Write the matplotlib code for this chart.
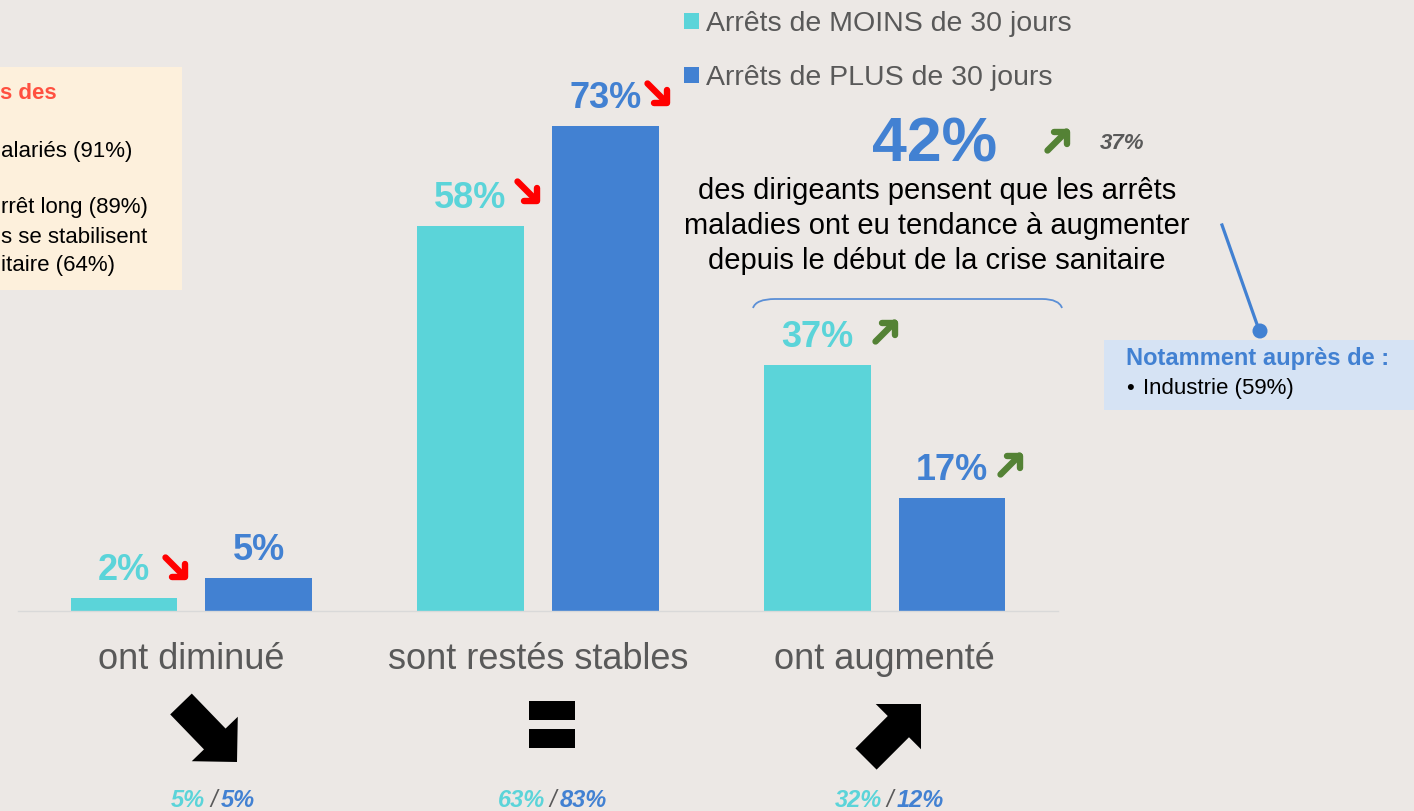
import numpy as np
import matplotlib.pyplot as plt
from matplotlib.patches import Rectangle, Polygon, Circle, PathPatch
from matplotlib.path import Path

plt.rcParams['font.family'] = ['Liberation Sans', 'DejaVu Sans']

# donnees
categories = ['ont diminué', 'sont restés stables', 'ont augmenté']
moins_30 = [2, 58, 37]
plus_30 = [5, 73, 17]
prev_moins = [5, 63, 32]
prev_plus = [5, 83, 12]
legend_labels = ['Arrêts de MOINS de 30 jours', 'Arrêts de PLUS de 30 jours']

CYAN = '#5BD4D9'
BLUE = '#4281D2'
GREY = '#595959'
BG = '#ECE8E5'
RED = '#FF0000'
GREEN = '#548235'

W, H = 1414, 811
fig = plt.figure(figsize=(W / 100, H / 100), dpi=100, facecolor=BG)

# calque en pixels pour les elements decoratifs
ov = fig.add_axes([0, 0, 1, 1])
ov.set_xlim(0, W)
ov.set_ylim(H, 0)
ov.axis('off')
ov.patch.set_visible(False)

ax = fig.add_axes([18 / W, (H - 611) / H, 1040 / W, 611 / H])
ax.set_facecolor('none')
x = np.arange(len(categories))
width = 0.308
off = 0.1945
b1 = ax.bar(x - off, moins_30, width, color=CYAN, label=legend_labels[0])
b2 = ax.bar(x + off, plus_30, width, color=BLUE, label=legend_labels[1])
ax.set_xlim(-0.5, 2.5)
ax.set_ylim(0, 92)
for s in ['top', 'right', 'left']:
    ax.spines[s].set_visible(False)
ax.spines['bottom'].set_color('#D9D9D9')
ax.spines['bottom'].set_linewidth(1)
ax.set_yticks([])
ax.set_xticks(x)
ax.set_xticklabels(categories, fontsize=26, color=GREY)
ax.tick_params(axis='x', length=0, pad=22)

for bars, vals, col in [(b1, moins_30, CYAN), (b2, plus_30, BLUE)]:
    for r, v in zip(bars, vals):
        ax.annotate(f'{v}%', (r.get_x() + r.get_width() / 2, v),
                    xytext=(0, 13), textcoords='offset points',
                    ha='center', va='baseline', fontsize=26,
                    fontweight='bold', color=col)


def small_arrow(cx, cy, up, color):
    s = 9.5
    k = 12.5
    kw = dict(color=color, lw=4.6, solid_capstyle='round',
              solid_joinstyle='round')
    if up:
        tip = (cx + s, cy - s)
        ov.plot([cx - s, tip[0]], [cy + s, tip[1]], **kw)
        ov.plot([tip[0] - k, tip[0], tip[0]], [tip[1], tip[1], tip[1] + k], **kw)
    else:
        tip = (cx + s, cy + s)
        ov.plot([cx - s, tip[0]], [cy - s, tip[1]], **kw)
        ov.plot([tip[0] - k, tip[0], tip[0]], [tip[1], tip[1], tip[1] - k], **kw)


# petites fleches de tendance
small_arrow(175, 567, False, RED)
small_arrow(527, 191, False, RED)
small_arrow(657, 93, False, RED)
small_arrow(885, 332, True, GREEN)
small_arrow(1010, 465, True, GREEN)
small_arrow(1057, 141, True, GREEN)


def block_arrow(tail, tip, color='black'):
    tail = np.array(tail, float)
    tip = np.array(tip, float)
    d = tip - tail
    L = np.hypot(*d)
    u = d / L
    v = np.array([-u[1], u[0]])
    w, hh = 15, 32
    pts_local = [(0, -w), (L - hh, -w), (L - hh, -hh), (L, 0),
                 (L - hh, hh), (L - hh, w), (0, w)]
    pts = [tail + a * u + b * v for a, b in pts_local]
    ov.add_patch(Polygon(pts, closed=True, color=color, lw=0))


block_arrow((181, 704), (237, 762))
block_arrow((866, 759), (921, 704))
ov.add_patch(Rectangle((529, 701), 46, 19, color='black', lw=0))
ov.add_patch(Rectangle((529, 729), 46, 19, color='black', lw=0))

# rappel vague precedente
note_dx = [22, 15, 5]
for i in range(len(categories)):
    kw = dict(textcoords='offset pixels', va='baseline', fontsize=17,
              fontstyle='italic', annotation_clip=False)
    ax.annotate('/', (i, 0), xytext=(note_dx[i], -196), ha='center',
                color=GREY, **kw)
    ax.annotate(f'{prev_moins[i]}%', (i, 0), xytext=(note_dx[i] - 8, -196),
                ha='right', fontweight='bold', color=CYAN, **kw)
    ax.annotate(f'{prev_plus[i]}%', (i, 0), xytext=(note_dx[i] + 7, -196),
                ha='left', fontweight='bold', color=BLUE, **kw)

# legende
fig.legend(handles=[b1, b2], labels=legend_labels, loc='upper left',
           bbox_to_anchor=(673 / W, 1.0), frameon=False, fontsize=20.5,
           labelcolor=GREY, handlelength=0.5, handleheight=0.5,
           handletextpad=0.25, labelspacing=0.98, borderaxespad=0)

# encadre gauche (tronque)
ov.add_patch(Rectangle((0, 67), 182, 223, color='#FDF0DC', lw=0))
ov.text(0, 99, 's des', ha='left', va='baseline', fontsize=16,
        fontweight='bold', color='#FF5040')
lines_left = [(157, 'alariés (91%)'), (213, 'rrêt long (89%)'),
              (243, 's se stabilisent'), (271, 'itaire (64%)')]
for yy, t in lines_left:
    ov.text(1, yy, t, ha='left', va='baseline', fontsize=16, color='black')

# chiffre cle
ov.text(935, 161, '42%', ha='center', va='baseline', fontsize=45,
        fontweight='bold', color=BLUE)
ov.text(1100, 149, '37%', ha='left', va='baseline', fontsize=16,
        fontweight='bold', fontstyle='italic', color=GREY)
ov.text(937, 226, 'des dirigeants pensent que les arrêts\n'
        'maladies ont eu tendance à augmenter\n'
        'depuis le début de la crise sanitaire',
        ha='center', va='center', fontsize=21, color='black',
        linespacing=1.33)

# accolade
brace = Path([(753, 308), (756, 299), (775, 299), (1042, 299),
              (1059, 299), (1062, 308)],
             [Path.MOVETO, Path.CURVE3, Path.CURVE3, Path.LINETO,
              Path.CURVE3, Path.CURVE3])
ov.add_patch(PathPatch(brace, fc='none', ec='#5B8FD6', lw=1.3))

# encadre secteur
ov.plot([1222, 1259], [225, 330], color=BLUE, lw=2.3)
ov.add_patch(Rectangle((1104, 340), 310, 70, color='#D6E3F4', lw=0))
ov.add_patch(Circle((1260, 331), 7.5, color=BLUE, lw=0))
ov.text(1126, 365, 'Notamment auprès de :', ha='left', va='baseline',
        fontsize=17, fontweight='bold', color=BLUE)
ov.text(1126, 394, '•', ha='left', va='baseline', fontsize=16, color='black')
ov.text(1143, 394, 'Industrie (59%)', ha='left', va='baseline',
        fontsize=16, color='black')

fig.savefig('out.png', dpi=100, facecolor=BG)
